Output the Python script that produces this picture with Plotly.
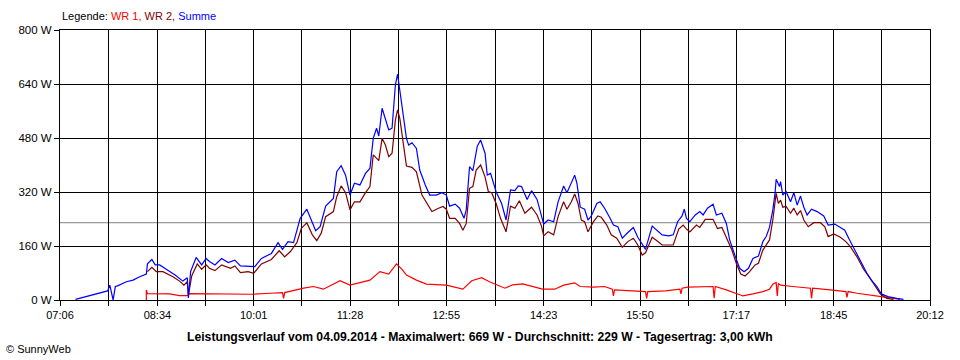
import plotly.graph_objects as go

# ---- data ----
tick_labels = ["07:06", "08:34", "10:01", "11:28", "12:55", "14:23", "15:50", "17:17", "18:45", "20:12"]
y_ticks = [0, 160, 320, 480, 640, 800]
avg_w = 229

summe_t = ["07:20","07:30","07:40","07:49","07:51","07:54","07:56","07:58","08:06","08:12","08:18","08:24","08:25","08:29","08:32","08:36","08:42","08:50","08:57","09:01","09:02","09:04","09:09","09:14","09:18","09:21","09:26","09:32","09:38","09:44","09:49","09:56","10:02","10:08","10:17","10:23","10:27","10:32","10:37","10:43","10:49","10:53","10:57","11:01","11:06","11:13","11:16","11:20","11:24","11:28","11:32","11:37","11:42","11:46","11:49","11:52","11:54","11:57","12:00","12:03","12:06","12:09","12:11","12:13","12:16","12:19","12:21","12:24","12:28","12:31","12:36","12:40","12:46","12:51","12:55","12:58","13:03","13:07","13:11","13:13","13:16","13:19","13:23","13:26","13:30","13:32","13:35","13:38","13:40","13:45","13:49","13:53","13:57","14:00","14:03","14:08","14:12","14:17","14:21","14:23","14:27","14:32","14:36","14:41","14:44","14:48","14:51","14:53","14:56","15:00","15:03","15:06","15:11","15:14","15:18","15:23","15:26","15:30","15:34","15:39","15:44","15:48","15:53","15:55","16:01","16:05","16:10","16:16","16:20","16:24","16:28","16:30","16:32","16:35","16:40","16:44","16:47","16:51","16:56","16:59","17:04","17:08","17:11","17:16","17:20","17:24","17:28","17:32","17:37","17:41","17:44","17:47","17:50","17:52","17:53","17:56","17:57","17:59","18:02","18:06","18:09","18:12","18:15","18:18","18:21","18:25","18:30","18:36","18:40","18:46","18:51","18:55","18:59","19:04","19:09","19:15","19:19","19:24","19:28","19:34","19:42","19:48"]
summe_w = [2,10,18,27,44,0,40,42,54,59,69,77,107,120,104,104,91,74,56,66,6,84,126,104,123,114,104,123,111,118,101,101,99,123,138,170,150,173,170,242,269,237,205,217,278,301,380,398,370,311,346,341,375,390,479,509,486,568,538,504,509,637,669,622,563,479,459,466,449,385,341,311,311,318,311,278,284,272,242,267,395,383,456,474,435,370,375,341,321,286,237,326,324,338,336,298,324,298,252,225,237,232,291,338,318,346,370,346,275,269,237,249,286,291,272,242,222,217,183,200,215,186,158,150,219,207,193,190,193,232,249,269,242,232,252,262,252,272,284,252,257,227,178,130,94,84,94,123,130,173,188,215,267,316,358,336,351,311,321,291,318,281,308,275,252,269,262,249,222,225,215,207,180,148,114,79,59,40,18,10,5,2]

wr2_t = ["08:25","08:29","08:33","08:39","08:48","08:54","08:58","09:01","09:02","09:05","09:10","09:14","09:18","09:21","09:26","09:32","09:40","09:44","09:49","09:56","10:01","10:08","10:17","10:24","10:29","10:34","10:40","10:44","10:49","10:54","10:58","11:02","11:06","11:13","11:16","11:20","11:24","11:28","11:32","11:37","11:42","11:46","11:49","11:54","11:57","12:00","12:03","12:06","12:09","12:11","12:13","12:16","12:19","12:24","12:28","12:33","12:38","12:42","12:48","12:52","12:55","12:58","13:03","13:07","13:10","13:13","13:16","13:19","13:22","13:26","13:30","13:33","13:36","13:40","13:44","13:49","13:53","13:57","14:01","14:06","14:12","14:17","14:21","14:23","14:27","14:32","14:36","14:41","14:44","14:48","14:51","14:54","14:57","15:00","15:03","15:08","15:12","15:15","15:20","15:24","15:29","15:34","15:39","15:44","15:48","15:52","15:55","16:01","16:05","16:10","16:20","16:25","16:29","16:32","16:35","16:41","16:44","16:49","16:56","17:00","17:04","17:08","17:13","17:17","17:21","17:25","17:29","17:34","17:37","17:41","17:47","17:50","17:53","17:55","17:57","17:59","18:02","18:06","18:09","18:12","18:15","18:18","18:22","18:27","18:33","18:37","18:40","18:45","18:51","18:56","19:00","19:06","19:12","19:18","19:22","19:27","19:33","19:39"]
wr2_w = [84,97,84,84,69,56,44,54,15,71,107,91,104,94,87,104,94,101,81,84,79,107,120,146,128,143,170,212,229,193,176,198,247,262,306,338,318,267,291,291,318,336,430,413,479,459,425,435,533,563,538,459,397,393,380,311,286,262,272,277,269,242,242,227,207,227,331,336,385,400,365,321,318,286,242,202,278,272,294,257,275,252,219,190,202,193,247,291,269,291,314,286,237,232,202,232,249,245,222,193,183,156,173,183,163,133,140,186,176,163,163,210,222,210,202,222,215,239,239,212,215,186,148,109,77,71,84,104,109,148,178,237,316,286,296,275,277,257,272,252,265,237,217,229,229,217,188,196,186,173,158,128,91,64,44,18,5,2]

wr1_t = ["08:24","08:24","08:25","08:45","08:54","09:01","09:03","10:00","10:16","10:27","10:28","10:29","10:46","10:55","11:04","11:10","11:19","11:28","11:37","11:46","11:55","12:03","12:10","12:15","12:19","12:28","12:37","12:55","13:10","13:18","13:27","13:34","13:48","13:55","14:04","14:11","14:22","14:33","14:41","14:51","14:56","15:08","15:18","15:25","15:26","15:27","15:38","15:55","15:56","15:57","16:13","16:26","16:27","16:28","16:33","16:47","16:56","16:57","16:58","17:08","17:17","17:23","17:32","17:41","17:47","17:50","17:53","17:54","17:55","17:57","18:08","18:24","18:25","18:26","18:42","18:56","18:57","18:58","19:06","19:20","19:28","19:39","19:45"]
wr1_w = [0,30,19,18,13,13,19,17,20,22,5,22,35,40,32,42,57,44,51,59,84,77,107,91,74,59,47,44,32,57,66,54,35,45,48,41,32,32,44,51,40,38,40,32,12,30,28,25,5,25,27,32,18,35,38,40,40,5,40,30,18,12,18,25,32,47,52,12,49,44,40,35,5,35,30,25,8,25,20,15,10,5,2]


def to_min(s):
    h, m = s.split(":")
    return int(h) * 60 + int(m)


major = [to_min(s) for s in tick_labels]
tickvals, ticktext = [], []
for i, v in enumerate(major):
    tickvals.append(v)
    ticktext.append(tick_labels[i])
    if i + 1 < len(major):
        tickvals.append((v + major[i + 1]) / 2)
        ticktext.append("")

FONT = "Liberation Sans"

fig = go.Figure()
fig.add_trace(go.Scatter(x=[to_min(t) for t in wr1_t], y=wr1_w, mode="lines",
                         line=dict(color="#ff0000", width=1.2), name="WR 1"))
fig.add_trace(go.Scatter(x=[to_min(t) for t in wr2_t], y=wr2_w, mode="lines",
                         line=dict(color="#800000", width=1.2), name="WR 2"))
fig.add_trace(go.Scatter(x=[to_min(t) for t in summe_t], y=summe_w, mode="lines",
                         line=dict(color="#0000ff", width=1.2), name="Summe"))

fig.add_shape(type="line", xref="paper", x0=0, x1=1, yref="y", y0=avg_w, y1=avg_w,
              line=dict(color="#808080", width=1), layer="below")

fig.update_layout(
    width=960, height=360,
    margin=dict(l=60, r=30, t=30, b=60),
    paper_bgcolor="white", plot_bgcolor="white",
    showlegend=False,
    font=dict(family=FONT, size=11, color="black"),
    xaxis=dict(range=[major[0], major[-1]], tickmode="array", tickvals=tickvals, ticktext=ticktext,
               showgrid=True, gridcolor="black", gridwidth=1, showline=True, linecolor="black",
               linewidth=1, mirror=True, ticks="outside", ticklen=5, tickcolor="black",
               zeroline=False, tickfont=dict(family=FONT, size=11)),
    yaxis=dict(range=[0, 800], tickmode="array", tickvals=y_ticks,
               ticktext=[f"{v} W" for v in y_ticks],
               showgrid=True, gridcolor="black", gridwidth=1, showline=True, linecolor="black",
               linewidth=1, mirror=True, ticks="outside", ticklen=5, tickcolor="black",
               zeroline=False, tickfont=dict(family=FONT, size=11.5)),
    annotations=[
        dict(xref="paper", yref="paper", x=0, y=(300 - 16) / 270, xanchor="left", yanchor="middle",
             showarrow=False, font=dict(family=FONT, size=11),
             text="Legende: <span style='color:#ff0000'>WR 1,</span> "
                  "<span style='color:#800000'>WR 2,</span> "
                  "<span style='color:#0000ff'>Summe</span>"),
        dict(xref="paper", yref="paper", x=(480 - 60) / 870, y=(300 - 337) / 270,
             xanchor="center", yanchor="middle", showarrow=False,
             font=dict(family=FONT, size=12.2),
             text="<b>Leistungsverlauf vom 04.09.2014 - Maximalwert: 669 W - Durchschnitt: 229 W - Tagesertrag: 3,00 kWh</b>"),
        dict(xref="paper", yref="paper", x=(4 - 60) / 870, y=(300 - 349) / 270,
             xanchor="left", yanchor="middle", showarrow=False,
             font=dict(family=FONT, size=11), text="© SunnyWeb"),
    ],
)

fig.write_html("out.html", config={"displayModeBar": False},
               post_script="document.body.style.margin='0';document.body.style.padding='0';")
